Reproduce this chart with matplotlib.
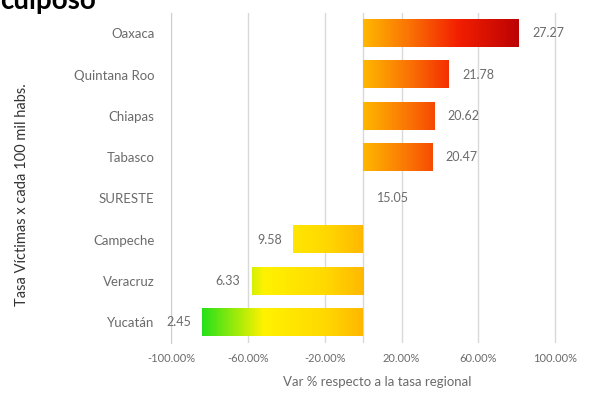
import numpy as np
import matplotlib
matplotlib.use("Agg")
import matplotlib.pyplot as plt
from matplotlib.colors import LinearSegmentedColormap, Normalize

# data (top to bottom)
estados = ["Oaxaca", "Quintana Roo", "Chiapas", "Tabasco", "SURESTE",
           "Campeche", "Veracruz", "Yucatán"]
tasas = ["27.27", "21.78", "20.62", "20.47", "15.05", "9.58", "6.33", "2.45"]
var_pct = [81.2, 44.7, 37.0, 36.0, 0.0, -36.3, -57.9, -83.7]
ticks = [-100, -60, -20, 20, 60, 100]
tick_labels = ["-100.00%", "-60.00%", "-20.00%", "20.00%", "60.00%", "100.00%"]

gris = "#6b6b6b"
plt.rcParams['font.family'] = ['Lato', 'DejaVu Sans']

# green -> yellow -> orange -> red, mapped on the x position
cmap = LinearSegmentedColormap.from_list("semaforo", [
    (0.00, (0.05, 0.85, 0.10)),
    (0.08, (0.15, 0.88, 0.10)),
    (0.24, (1.00, 0.95, 0.00)),
    (0.40, (1.00, 0.85, 0.00)),
    (0.50, (1.00, 0.72, 0.00)),
    (0.62, (0.98, 0.45, 0.02)),
    (0.75, (0.95, 0.12, 0.00)),
    (0.92, (0.72, 0.00, 0.02)),
    (1.00, (0.60, 0.00, 0.02)),
])
norm = Normalize(-100, 100)

fig = plt.figure(figsize=(5.9, 4.01), dpi=100)
ax = fig.add_axes([0.29, 0.145, 0.70, 0.823])

y = np.arange(len(estados))[::-1]
h = 0.66
for yi, v, t in zip(y, var_pct, tasas):
    x0, x1 = min(0, v), max(0, v)
    if x1 > x0:
        grad = np.linspace(x0, x1, 256).reshape(1, -1)
        ax.imshow(grad, cmap=cmap, norm=norm, aspect='auto',
                  extent=[x0, x1, yi - h / 2, yi + h / 2], zorder=3,
                  interpolation='bilinear')
    if v >= 0:
        ax.text(v + 7, yi, t, ha='left', va='center', fontsize=9, color=gris)
    else:
        ax.text(v - 6, yi, t, ha='right', va='center', fontsize=9, color=gris)

ax.set_xlim(-100, 115)
ax.set_ylim(-0.5, len(estados) - 0.5)
ax.set_xticks(ticks)
ax.set_xticklabels(tick_labels)
ax.set_yticks(y)
ax.set_yticklabels(estados)
ax.tick_params(axis='both', length=0, colors=gris)
ax.tick_params(axis='x', labelsize=8, pad=7)
ax.tick_params(axis='y', labelsize=9.5, pad=12)
for lbl in ax.get_xticklabels() + ax.get_yticklabels():
    lbl.set_color(gris)

ax.grid(axis='x', color='#d9d9d9', linewidth=1, zorder=0)
ax.axvline(0, color='#d9d9d9', linewidth=1, zorder=0)
for s in ['top', 'right', 'bottom']:
    ax.spines[s].set_visible(False)
ax.spines['left'].set_color('#cfcfcf')

ax.set_xlabel("Var % respecto a la tasa regional", fontsize=9.5,
              color=gris, labelpad=9)
fig.text(0.037, 0.515, "Tasa Víctimas x cada 100 mil habs.", rotation=90,
         ha='center', va='center', fontsize=10.5, color='#333333')

# title of the slide, cut at the top edge as in the original
fig.text(0.0, 0.978, "culposo", fontsize=20, fontweight='bold',
         ha='left', va='baseline', color='black')

fig.savefig("out.png", dpi=100, facecolor='white')
